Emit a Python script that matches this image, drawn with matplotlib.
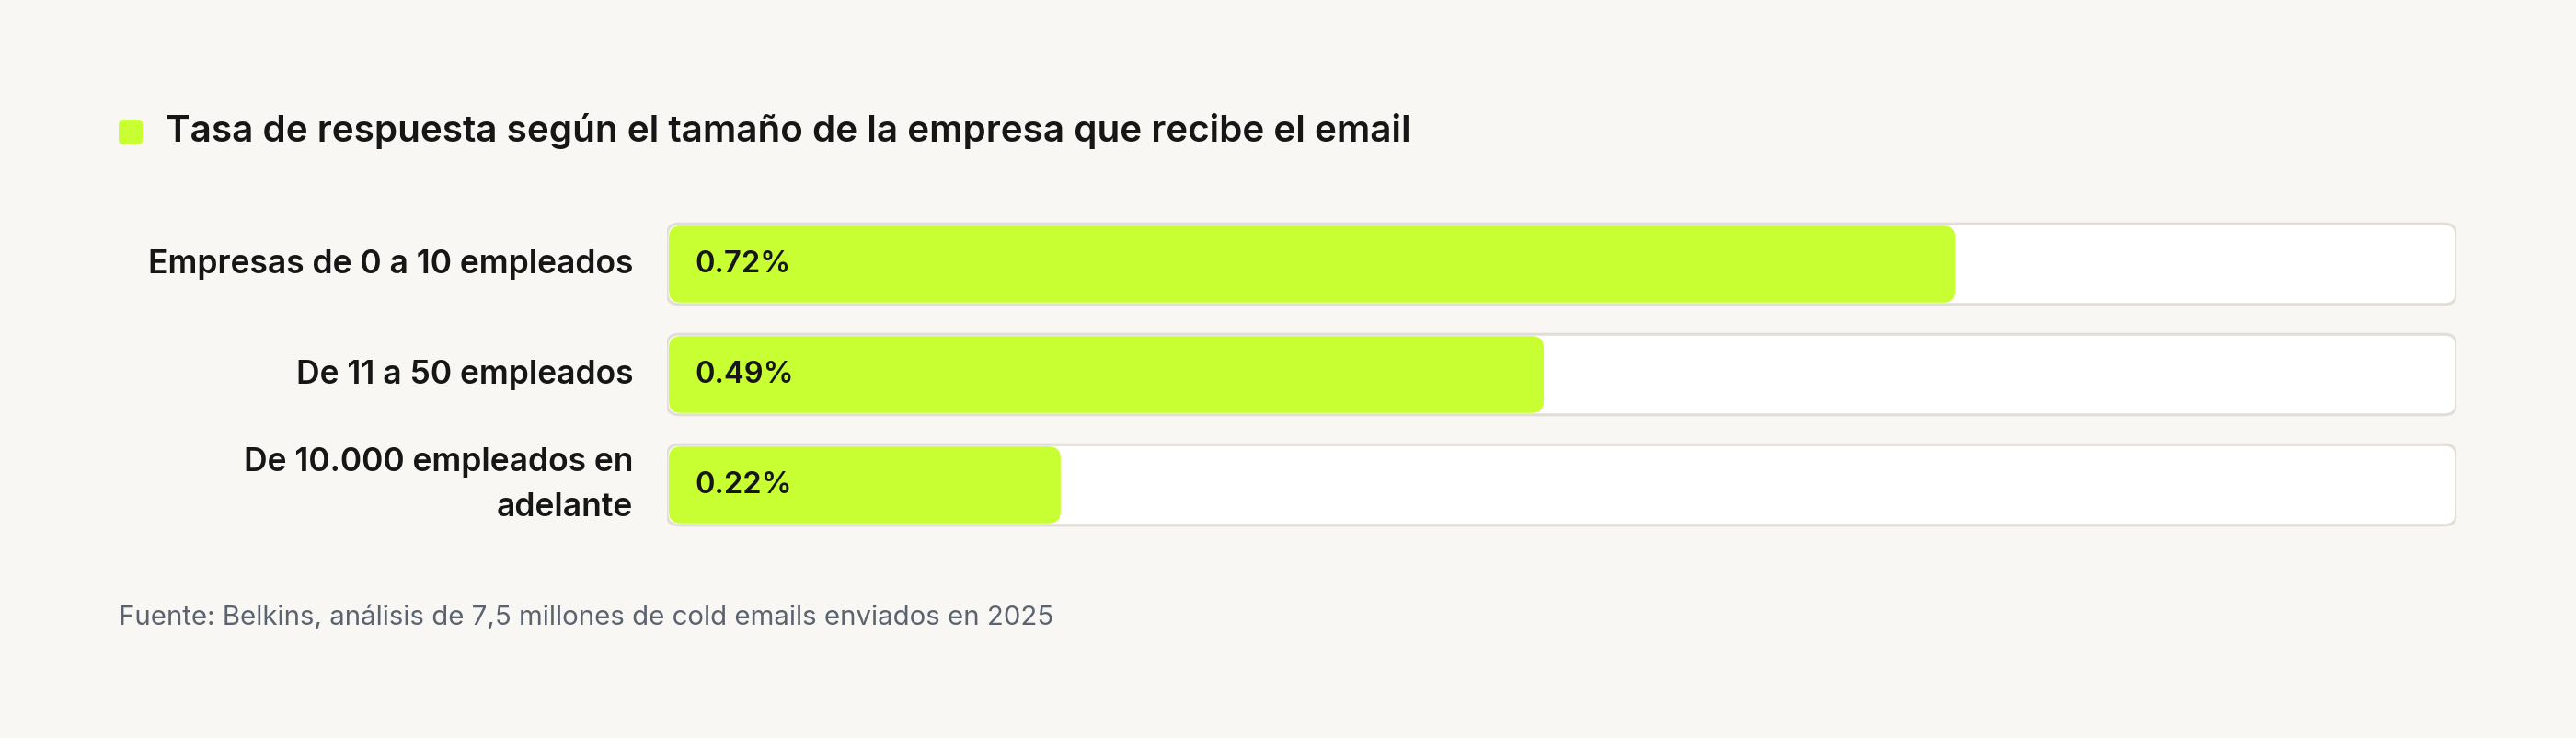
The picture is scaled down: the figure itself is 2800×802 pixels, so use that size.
import matplotlib.pyplot as plt
from matplotlib.patches import FancyBboxPatch

# data
categories = ["Empresas de 0 a 10 empleados", "De 11 a 50 empleados", "De 10.000 empleados en\nadelante"]
values = [0.72, 0.49, 0.22]
value_labels = ["0.72%", "0.49%", "0.22%"]
title = "Tasa de respuesta según el tamaño de la empresa que recibe el email"
source = "Fuente: Belkins, análisis de 7,5 millones de cold emails enviados en 2025"

bg = "#f8f7f3"
lime = "#c8ff33"
dark = "#161616"
border = "#e2ded6"

W, H = 2800, 802
fig = plt.figure(figsize=(W / 100, H / 100), dpi=100, facecolor=bg)
plt.rcParams['font.family'] = ['Inter', 'DejaVu Sans']

# axes covering bar area (pixel coords measured from top)
x0, x1 = 725, 2670
ytop, ybot = 227, 587
ax = fig.add_axes([x0 / W, 1 - ybot / H, (x1 - x0) / W, (ybot - ytop) / H])
ax.set_xlim(0, 1)
ax.set_ylim(2.5, -0.5)
ax.axis("off")

px_x = (x1 - x0)  # pixels per x unit
px_y = (ybot - ytop) / 3.0  # pixels per y unit
aspect = px_x / px_y
bar_h = 0.73
r = 13 / px_x

for i, (cat, v, lab) in enumerate(zip(categories, values, value_labels)):
    back = FancyBboxPatch((0, i - bar_h / 2), 1, bar_h,
                          boxstyle=f"round,pad=0,rounding_size={r}",
                          mutation_aspect=aspect, facecolor="white",
                          edgecolor=border, linewidth=2.2, zorder=1)
    ax.add_patch(back)
    inset_x = 2 / px_x
    inset_y = 2 / px_y
    front = FancyBboxPatch((inset_x, i - bar_h / 2 + inset_y), v - inset_x, bar_h - 2 * inset_y,
                           boxstyle=f"round,pad=0,rounding_size={r}",
                           mutation_aspect=aspect, facecolor=lime,
                           edgecolor="none", zorder=2)
    ax.add_patch(front)
    ax.text(30 / px_x, i, lab, ha="left", va="center", fontsize=23.6,
            fontweight="semibold", color=dark, zorder=3)
    ax.text(-37 / px_x, i, cat, ha="right", va="center", fontsize=25.5,
            fontweight="semibold", color=dark, linespacing=1.6)

# title marker + title
fig.patches.append(FancyBboxPatch((129 / W, 1 - 157 / H), 26 / W, 27 / H,
                                  boxstyle=f"round,pad=0,rounding_size={5 / W}",
                                  mutation_aspect=W / H, facecolor=lime,
                                  edgecolor="none", transform=fig.transFigure))
fig.text(180 / W, 1 - 142 / H, title, ha="left", va="center", fontsize=29.1,
         fontweight="semibold", color=dark)

fig.text(129 / W, 1 - 671 / H, source, ha="left", va="center", fontsize=21.2,
         color="#5b6371")

fig.savefig("out.png", dpi=100, facecolor=bg)
